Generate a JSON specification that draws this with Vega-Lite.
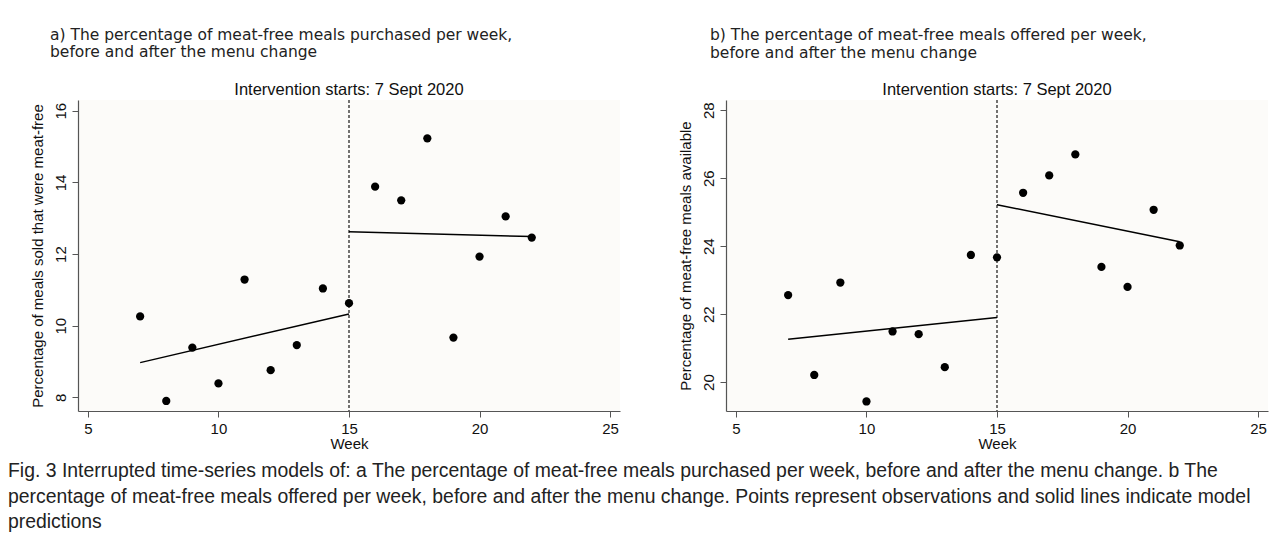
{
  "$schema": "https://vega.github.io/schema/vega-lite/v6.json",
  "background": "white",
  "padding": {"left": 8, "top": 27, "right": 5, "bottom": 5},
  "spacing": 58,
  "title": {
    "text": [
      "Fig. 3  Interrupted time-series models of: a The percentage of meat-free meals purchased per week, before and after the menu change. b The",
      "percentage of meat-free meals offered per week, before and after the menu change. Points represent observations and solid lines indicate model",
      "predictions"
    ],
    "orient": "bottom",
    "anchor": "start",
    "dx": -22,
    "offset": 11,
    "font": "Liberation Sans",
    "fontSize": 19.4,
    "fontWeight": "normal",
    "lineHeight": 25.5,
    "color": "#222222"
  },
  "datasets": {
    "a_obs": [
      {"week": 7, "pct": 10.26}, {"week": 8, "pct": 7.90}, {"week": 9, "pct": 9.39}, {"week": 10, "pct": 8.39},
      {"week": 11, "pct": 11.29}, {"week": 12, "pct": 8.76}, {"week": 13, "pct": 9.46}, {"week": 14, "pct": 11.04},
      {"week": 15, "pct": 10.63}, {"week": 16, "pct": 13.88}, {"week": 17, "pct": 13.50}, {"week": 18, "pct": 15.23},
      {"week": 19, "pct": 9.67}, {"week": 20, "pct": 11.93}, {"week": 21, "pct": 13.05}, {"week": 22, "pct": 12.46}
    ],
    "a_pred": [
      {"week": 7, "pred": 8.97, "phase": "pre"}, {"week": 15, "pred": 10.33, "phase": "pre"},
      {"week": 15, "pred": 12.62, "phase": "post"}, {"week": 22, "pred": 12.49, "phase": "post"}
    ],
    "b_obs": [
      {"week": 7, "pct": 22.56}, {"week": 8, "pct": 20.21}, {"week": 9, "pct": 22.93}, {"week": 10, "pct": 19.43},
      {"week": 11, "pct": 21.49}, {"week": 12, "pct": 21.41}, {"week": 13, "pct": 20.44}, {"week": 14, "pct": 23.74},
      {"week": 15, "pct": 23.67}, {"week": 16, "pct": 25.57}, {"week": 17, "pct": 26.08}, {"week": 18, "pct": 26.70},
      {"week": 19, "pct": 23.39}, {"week": 20, "pct": 22.80}, {"week": 21, "pct": 25.07}, {"week": 22, "pct": 24.02}
    ],
    "b_pred": [
      {"week": 7, "pred": 21.26, "phase": "pre"}, {"week": 15, "pred": 21.90, "phase": "pre"},
      {"week": 15, "pred": 25.22, "phase": "post"}, {"week": 22, "pred": 24.13, "phase": "post"}
    ],
    "note": [{"label": "Intervention starts: 7 Sept 2020"}],
    "one": [{}]
  },
  "hconcat": [
    {
      "title": {"text": ["a) The percentage of meat-free meals purchased per week,", "before and after the menu change"], "dx": 20},
      "width": 542,
      "height": 311,
      "layer": [
        {
          "data": {"name": "one"},
          "mark": {"type": "rule", "color": "black", "strokeDash": [3, 2], "strokeWidth": 1.1},
          "encoding": {"x": {"datum": 15, "type": "quantitative", "scale": {"domain": [4.62, 25.38], "nice": false, "zero": false}}}
        },
        {
          "data": {"name": "a_pred"},
          "mark": {"type": "line", "color": "black", "strokeWidth": 1.5},
          "encoding": {
            "x": {"field": "week", "type": "quantitative", "scale": {"domain": [4.62, 25.38], "nice": false, "zero": false}},
            "y": {"field": "pred", "type": "quantitative", "scale": {"domain": [7.62, 16.3], "nice": false, "zero": false}},
            "detail": {"field": "phase"}
          }
        },
        {
          "data": {"name": "a_obs"},
          "mark": {"type": "point", "filled": true, "color": "black", "size": 68, "opacity": 1},
          "encoding": {
            "x": {"field": "week", "type": "quantitative", "scale": {"domain": [4.62, 25.38], "nice": false, "zero": false},
                  "axis": {"title": "Week", "values": [5, 10, 15, 20, 25]}},
            "y": {"field": "pct", "type": "quantitative", "scale": {"domain": [7.62, 16.3], "nice": false, "zero": false},
                  "axis": {"title": "Percentage of meals sold that were meat-free", "values": [8, 10, 12, 14, 16]}}
          }
        },
        {
          "data": {"name": "note"},
          "mark": {"type": "text", "font": "Liberation Sans", "fontSize": 16.5, "color": "#111111", "align": "center", "baseline": "middle"},
          "encoding": {
            "x": {"datum": 15, "type": "quantitative"},
            "y": {"datum": 16.58, "type": "quantitative"},
            "text": {"field": "label"}
          }
        }
      ]
    },
    {
      "title": {"text": ["b) The percentage of meat-free meals offered per week,", "before and after the menu change"], "dx": 32},
      "width": 542,
      "height": 311,
      "layer": [
        {
          "data": {"name": "one"},
          "mark": {"type": "rule", "color": "black", "strokeDash": [3, 2], "strokeWidth": 1.1},
          "encoding": {"x": {"datum": 15, "type": "quantitative", "scale": {"domain": [4.62, 25.38], "nice": false, "zero": false}}}
        },
        {
          "data": {"name": "b_pred"},
          "mark": {"type": "line", "color": "black", "strokeWidth": 1.5},
          "encoding": {
            "x": {"field": "week", "type": "quantitative", "scale": {"domain": [4.62, 25.38], "nice": false, "zero": false}},
            "y": {"field": "pred", "type": "quantitative", "scale": {"domain": [19.15, 28.3], "nice": false, "zero": false}},
            "detail": {"field": "phase"}
          }
        },
        {
          "data": {"name": "b_obs"},
          "mark": {"type": "point", "filled": true, "color": "black", "size": 68, "opacity": 1},
          "encoding": {
            "x": {"field": "week", "type": "quantitative", "scale": {"domain": [4.62, 25.38], "nice": false, "zero": false},
                  "axis": {"title": "Week", "values": [5, 10, 15, 20, 25]}},
            "y": {"field": "pct", "type": "quantitative", "scale": {"domain": [19.15, 28.3], "nice": false, "zero": false},
                  "axis": {"title": "Percentage of meat-free meals available", "values": [20, 22, 24, 26, 28]}}
          }
        },
        {
          "data": {"name": "note"},
          "mark": {"type": "text", "font": "Liberation Sans", "fontSize": 16.5, "color": "#111111", "align": "center", "baseline": "middle"},
          "encoding": {
            "x": {"datum": 15, "type": "quantitative"},
            "y": {"datum": 28.59, "type": "quantitative"},
            "text": {"field": "label"}
          }
        }
      ]
    }
  ],
  "config": {
    "view": {"stroke": null, "fill": "#fcfbf9"},
    "title": {"anchor": "start", "font": "DejaVu Sans", "fontSize": 15.5, "fontWeight": "normal", "color": "#222222", "lineHeight": 17.5, "offset": 21},
    "axis": {
      "grid": false,
      "domainColor": "#555555",
      "domainWidth": 1.2,
      "tickColor": "#555555",
      "tickSize": 6,
      "labelColor": "#111111",
      "titleColor": "#111111",
      "labelFont": "Liberation Sans",
      "titleFont": "Liberation Sans",
      "labelFontSize": 15,
      "titleFontSize": 15,
      "titleFontWeight": "normal",
      "labelPadding": 4
    },
    "axisY": {"labelAngle": -90, "labelAlign": "center", "labelBaseline": "bottom", "titlePadding": 8},
    "axisX": {"titlePadding": 0, "labelFlush": false}
  }
}
